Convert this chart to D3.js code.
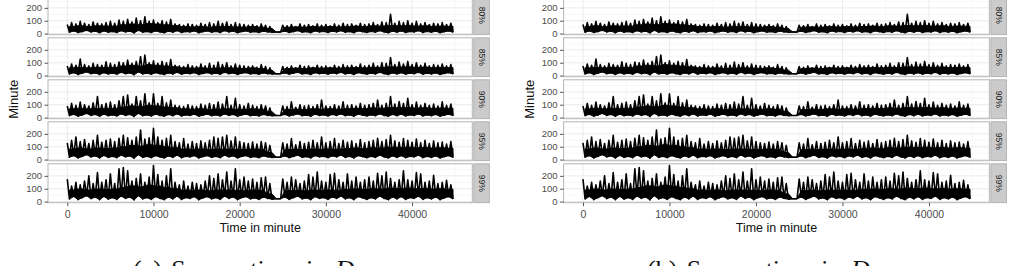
<!DOCTYPE html>
<html><head><meta charset="utf-8">
<script src="https://cdn.jsdelivr.net/npm/d3@7"></script>
<style>body{margin:0;background:#fff}svg{display:block}</style>
</head><body><svg id="c" width="1014" height="266"></svg>
<script>
// ---- data ----
const facetLabels = ["80%", "85%", "90%", "95%", "99%"];
const binStart = d3.range(0, 45000, 500);     // 500-minute bins (90): spike high / low of each bin
const coreStart = d3.range(0, 45000, 1000);   // 1000-minute bins (45): top of the solid black core

const hi80 = [70,85,75,95,80,70,90,80,75,85, 95,80,105,95,110,90,120,100,130,95, 105,85,100,90,110,75,70,65,75,70, 65,80,70,85,75,95,80,90,70,85, 75,70,65,70,60,75,65,55,12,12, 65,60,70,55,75,65,70,60,75,65, 70,60,75,65,80,70,75,65,80,70, 75,85,70,90,85,150,80,95,85,100, 80,95,75,85,70,80,75,85,70,80];
const lo80 = [10,20,8,15,25,12,18,6,20,10, 15,8,22,12,18,5,25,10,15,8, 20,12,6,18,10,22,8,15,12,20, 6,14,20,10,16,8,22,12,18,6, 15,20,10,14,8,18,12,10,12,12, 18,8,15,22,10,14,6,20,12,16, 8,18,12,22,10,15,6,20,14,8, 16,10,22,12,6,18,10,20,8,15, 12,22,8,16,10,18,6,14,20,10];
const core80 = [55,60,55,60,58,58, 68,74,70,78,74,68,62, 55,52,55,50,55, 55,52,50,55,50, 40,12, 50,52,50,55,52,55,52,55,58,55, 60,58,62,60,62,58,60,56,58,56];

const hi85 = [75,90,80,128,85,75,95,85,80,107, 95,85,105,100,120,95,110,147,160,100, 115,95,110,100,125,80,75,70,85,75, 70,90,75,95,80,105,85,100,75,90, 80,75,70,75,65,85,70,60,14,14, 70,65,75,60,80,70,75,65,80,70, 75,65,80,70,85,75,80,70,90,75, 80,95,75,100,95,140,85,105,90,110, 85,100,80,95,75,85,80,90,75,85];
const lo85 = [12,22,8,18,28,14,20,8,22,12, 18,10,25,14,20,6,28,12,18,10, 22,14,8,20,12,25,10,18,14,22, 8,16,22,12,18,10,25,14,20,8, 18,22,12,16,10,20,14,12,14,14, 20,10,18,25,12,16,8,22,14,18, 10,20,14,25,12,18,8,22,16,10, 18,12,25,14,8,20,12,22,10,18, 14,25,10,18,12,20,8,16,22,12];
const core85 = [60,64,60,64,62,64, 74,80,75,85,80,74,68, 60,58,60,55,58, 60,58,55,60,55, 42,14, 55,58,55,60,58,60,58,60,62,60, 64,62,68,66,68,64,66,62,64,62];

const hi90 = [90,110,95,120,100,90,115,163,100,110, 120,100,130,163,176,105,163,130,184,115, 184,110,163,115,136,95,90,85,100,90, 85,105,95,110,100,120,105,163,95,150, 100,90,110,95,85,100,90,75,16,16, 90,85,123,80,100,90,95,85,100,136, 90,85,100,90,123,95,100,90,110,95, 100,110,136,95,110,163,105,125,110,150, 100,120,95,110,95,105,90,123,95,105];
const lo90 = [15,25,10,20,32,16,24,10,26,14, 20,12,28,16,24,8,32,14,20,12, 26,16,10,24,14,28,12,20,16,26, 10,18,26,14,20,12,28,16,24,10, 20,26,14,18,12,24,16,14,16,16, 24,12,20,28,14,18,10,26,16,20, 12,24,16,28,14,20,10,26,18,12, 20,14,28,16,10,24,14,26,12,20, 16,28,12,20,14,24,10,18,26,14];
const core90 = [68,72,68,72,70,72, 82,90,86,95,90,82,76, 68,65,68,62,66, 68,65,62,68,64, 46,16, 62,65,62,68,65,68,65,70,72,70, 75,72,78,76,78,74,76,72,74,72];

const hi95 = [130,150,176,140,155,125,150,189,135,150, 160,140,165,189,170,150,175,229,160,170, 243,176,150,165,189,140,130,163,120,140, 125,145,130,150,176,165,176,189,145,176, 140,130,125,136,120,140,130,110,18,18, 130,120,163,115,140,125,135,150,130,176, 130,140,163,125,150,135,145,125,155,130, 140,150,165,140,155,189,145,135,163,150, 135,160,130,150,125,145,130,136,120,140];
const lo95 = [18,30,12,24,38,20,28,12,32,16, 24,14,34,20,28,10,38,16,24,14, 30,20,12,28,16,34,14,24,20,30, 12,22,30,16,24,14,34,20,28,12, 24,30,16,22,14,28,20,16,18,18, 28,14,24,34,16,22,12,30,20,24, 14,28,20,34,16,24,12,30,22,14, 24,16,34,20,12,28,16,30,14,24, 20,34,14,24,16,28,12,22,30,16];
const core95 = [82,90,82,90,86,90, 100,110,105,115,110,100,92, 82,80,82,78,82, 82,80,78,82,80, 55,18, 78,80,78,82,80,82,80,86,90,86, 92,90,96,94,96,92,94,90,92,88];

const hi99 = [175,120,150,130,160,200,140,225,150,170, 215,140,255,265,240,160,180,215,150,190, 280,210,160,200,255,150,130,160,120,150, 140,130,160,200,180,215,170,230,160,255, 170,190,160,175,150,185,190,140,22,22, 175,150,190,170,140,160,210,190,230,160, 150,210,220,170,150,215,160,190,150,170, 190,160,220,200,230,180,150,170,240,170, 160,225,215,150,160,205,140,150,165,130];
const lo99 = [20,40,15,30,45,22,35,14,40,18, 30,16,42,24,35,12,45,20,30,16, 38,24,14,35,20,42,16,30,24,38, 14,28,38,20,30,16,42,24,35,14, 30,38,20,28,16,35,24,18,22,22, 35,16,30,42,20,28,14,38,24,30, 16,35,24,42,20,30,14,38,28,16, 30,20,42,24,14,35,20,38,16,30, 24,42,16,30,20,35,14,28,38,20];
const core99 = [90,98,90,98,94,98, 110,122,115,128,120,110,100, 90,88,90,85,90, 90,88,85,90,88, 60,22, 85,88,85,90,88,90,88,95,98,95, 100,98,105,102,105,100,102,98,100,96];

const xTickValues = [0, 10000, 20000, 30000, 40000];
const yTickValues = [0, 100, 200];
const captionLetters = ["(a)", "(b)"];
const captionText = "Sweep time in ";
const captionVar = "D";
const xTitle = "Time in minute";
const yTitle = "Minute";

// ---- build series ----
const hiAll = [hi80, hi85, hi90, hi95, hi99];
const loAll = [lo80, lo85, lo90, lo95, lo99];
const coreAll = [core80, core85, core90, core95, core99];
// spike trace: high at bin start, low at bin middle
const traceAll = hiAll.map((hi, k) => {
  const pts = [];
  hi.forEach((h, i) => {
    pts.push({t: binStart[i], v: h});
    pts.push({t: binStart[i] + 250, v: loAll[k][i]});
  });
  return pts;
});
// solid core: from bin low up to core top
const bandAll = loAll.map((lo, k) => lo.map((l, i) => ({
  t: binStart[i] + 250, lo: l,
  top: coreAll[k][coreStart.indexOf(Math.floor(binStart[i] / 1000) * 1000)]
})));

// ---- layout ----
const svg = d3.select("#c");
const subplots = [
  {left: 48, right: 472.3, capX: 133},
  {left: 563.6, right: 989.4, capX: 647}
];
const panelTop0 = -4.2, panelStep = 42, panelH = 38.9;

const allPts = traceAll.flat();
const tExt = d3.extent(allPts, d => d.t);
const vExt = d3.extent(allPts, d => d.v);
const tPad = (tExt[1] - tExt[0]) * 0.05, vPad = (vExt[1] - vExt[0]) * 0.05;

subplots.forEach((sp, s) => {
  const g = svg.append("g");
  const x = d3.scaleLinear().domain([tExt[0] - tPad, tExt[1] + tPad]).range([sp.left, sp.right]);
  const xMinor = [5000, 15000, 25000, 35000, 45000];

  facetLabels.forEach((lab, k) => {
    const top = panelTop0 + panelStep * k;
    const y = d3.scaleLinear().domain([vExt[0] - vPad, vExt[1] + vPad]).range([top + panelH, top]);
    const pg = g.append("g");
    pg.append("rect").attr("x", sp.left).attr("y", top).attr("width", sp.right - sp.left).attr("height", panelH)
      .attr("fill", "#fff");
    // grid
    pg.selectAll(".gxm").data(xMinor).join("line")
      .attr("x1", d => x(d)).attr("x2", d => x(d)).attr("y1", top).attr("y2", top + panelH)
      .attr("stroke", "#f4f4f4").attr("stroke-width", 0.6);
    pg.selectAll(".gym").data([50, 150, 250]).join("line")
      .attr("x1", sp.left).attr("x2", sp.right).attr("y1", d => y(d)).attr("y2", d => y(d))
      .attr("stroke", "#f4f4f4").attr("stroke-width", 0.6);
    pg.selectAll(".gx").data(xTickValues).join("line")
      .attr("x1", d => x(d)).attr("x2", d => x(d)).attr("y1", top).attr("y2", top + panelH)
      .attr("stroke", "#e6e6e6").attr("stroke-width", 0.8);
    pg.selectAll(".gy").data(yTickValues).join("line")
      .attr("x1", sp.left).attr("x2", sp.right).attr("y1", d => y(d)).attr("y2", d => y(d))
      .attr("stroke", "#e6e6e6").attr("stroke-width", 0.8);
    // solid core of the series
    const area = d3.area().x(d => x(d.t)).y0(d => y(d.lo)).y1(d => y(d.top));
    pg.append("path").datum(bandAll[k]).attr("d", area)
      .attr("fill", "#000").attr("stroke", "#000").attr("stroke-width", 1).attr("stroke-linejoin", "round");
    // spiky trace
    const line = d3.line().x(d => x(d.t)).y(d => y(d.v));
    pg.append("path").datum(traceAll[k]).attr("d", line)
      .attr("fill", "none").attr("stroke", "#000").attr("stroke-width", 1.6)
      .attr("stroke-linejoin", "round");
    // border
    pg.append("rect").attr("x", sp.left).attr("y", top).attr("width", sp.right - sp.left).attr("height", panelH)
      .attr("fill", "none").attr("stroke", "#b5b5b5").attr("stroke-width", 1);
    // y axis
    const ya = pg.append("g").attr("transform", `translate(${sp.left},0)`)
      .call(d3.axisLeft(y).tickValues(yTickValues).tickSize(3.5).tickPadding(2.5).tickFormat(d3.format("d")));
    ya.select(".domain").remove();
    ya.selectAll("line").attr("stroke", "#555");
    ya.selectAll("text").attr("fill", "#4d4d4d").style("font-family", "Liberation Sans, Arial, sans-serif")
      .style("font-size", "9.5px");
    // strip
    const sx = sp.right + 1.5, sw = 15.5;
    pg.append("rect").attr("x", sx).attr("y", top).attr("width", sw).attr("height", panelH)
      .attr("fill", "#cbcbcb").attr("stroke", "#a8a8a8").attr("stroke-width", 0.8);
    pg.append("text").attr("transform", `translate(${sx + sw / 2},${top + panelH / 2}) rotate(90)`)
      .attr("text-anchor", "middle").attr("dy", "0.35em")
      .style("font-family", "Liberation Sans, Arial, sans-serif").style("font-size", "8.5px")
      .attr("fill", "#222").text(lab);
  });

  // x axis under last panel
  const bottom = panelTop0 + panelStep * 4 + panelH;
  const xa = g.append("g").attr("transform", `translate(0,${bottom})`)
    .call(d3.axisBottom(x).tickValues(xTickValues).tickSize(3.5).tickPadding(4.5).tickFormat(d3.format("d")));
  xa.select(".domain").remove();
  xa.selectAll("line").attr("stroke", "#555");
  xa.selectAll("text").attr("fill", "#4d4d4d").style("font-family", "Liberation Sans, Arial, sans-serif")
    .style("font-size", "10.5px");

  // titles
  g.append("text").attr("x", (sp.left + sp.right) / 2).attr("y", 231.5).attr("text-anchor", "middle")
    .style("font-family", "Liberation Sans, Arial, sans-serif").style("font-size", "12.5px").attr("fill", "#111")
    .text(xTitle);
  g.append("text").attr("transform", `translate(${sp.left - 30},${(panelTop0 + bottom) / 2}) rotate(-90)`)
    .attr("text-anchor", "middle")
    .style("font-family", "Liberation Sans, Arial, sans-serif").style("font-size", "13px").attr("fill", "#111")
    .text(yTitle);

  // caption
  const cap = g.append("text").attr("x", sp.capX).attr("y", 278)
    .style("font-family", "Liberation Serif, Times New Roman, serif").style("font-size", "26px")
    .style("word-spacing", "3px").attr("fill", "#111");
  cap.append("tspan").text(captionLetters[s] + " " + captionText);
  cap.append("tspan").style("font-style", "italic").text(captionVar);
});
</script></body></html>
